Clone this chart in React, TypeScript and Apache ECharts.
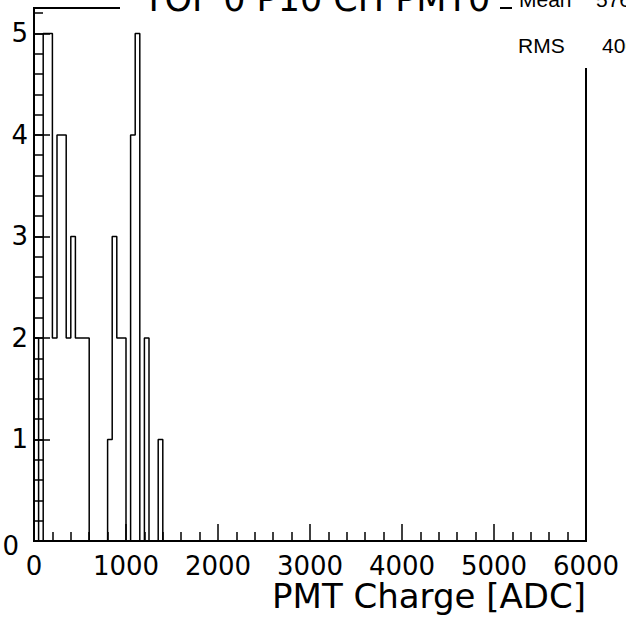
import React, { useEffect, useRef } from "react";
import * as echarts from "echarts";

// Histogram: bins of 50 ADC starting at 0 (bins beyond the list are empty)
const binWidth = 50;
const counts = [2, 0, 5, 5, 2, 4, 4, 2, 3, 2, 2, 2, 0, 0, 0, 0, 1, 3, 2, 2, 0, 4, 5, 0, 2, 0, 0, 1];
const xMin = 0;
const xMax = 6000;
const xInterval = 1000;
const yMin = 0;
const yMax = 5.25;
const yInterval = 1;
const yMinorInterval = 0.2;
const titleText = "TOF 0 P10 CH PMT0";
const xTitle = "PMT Charge [ADC]";
const statNames = ["Mean", "RMS"];
const statValues = ["576.9", "400.4"];

const FONT = "DejaVu Sans";
const SFONT = "Liberation Sans";

export default function App() {
  const ref = useRef<HTMLDivElement>(null);
  useEffect(() => {
    if (!ref.current) return;
    const chart = echarts.init(ref.current, null, { renderer: "svg" });
    const data: [number, number][] = [[xMin, 0]];
    counts.forEach((c, i) => data.push([xMin + i * binWidth, c]));
    data.push([xMin + counts.length * binWidth, 0]);
    data.push([xMax, 0]);

    const tickStyle = { color: "#000", width: 1.5 };
    chart.setOption({
      animation: false,
      backgroundColor: "#fff",
      grid: {
        left: 34,
        right: 40,
        top: 8,
        bottom: 79,
        containLabel: false,
        outerBoundsMode: "none",
        show: true,
        borderColor: "#000",
        borderWidth: 2,
        backgroundColor: "transparent",
      },
      xAxis: {
        type: "value",
        min: xMin,
        max: xMax,
        interval: xInterval,
        splitLine: { show: false },
        axisLine: { show: true, lineStyle: { color: "#000", width: 2 } },
        axisTick: { show: true, inside: true, length: 17, lineStyle: tickStyle },
        minorTick: { show: true, splitNumber: 5, length: 9, lineStyle: tickStyle },
        axisLabel: {
          color: "#000",
          fontSize: 26,
          lineHeight: 20,
          fontFamily: FONT,
          margin: 15,
          formatter: (v: number) => String(v),
        },
      },
      yAxis: [
        {
          type: "value",
          min: yMin,
          max: yMax,
          interval: yInterval,
          splitLine: { show: false },
          axisLine: { show: true, lineStyle: { color: "#000", width: 2 } },
          axisTick: { show: true, inside: true, length: 16, lineStyle: tickStyle },
          minorTick: { show: false },
          axisLabel: {
            color: "#000",
            fontSize: 26,
            fontFamily: FONT,
            margin: 6,
            formatter: (v: number) =>
              v === 0 ? "{z|0}" : Number.isInteger(v) ? String(v) : "",
            rich: {
              z: {
                color: "#000",
                fontSize: 26,
                fontFamily: FONT,
                padding: [10, 9, 0, 0],
              },
            },
          },
        },
        {
          type: "value",
          position: "left",
          min: yMin,
          max: yMax,
          interval: yMinorInterval,
          splitLine: { show: false },
          axisLine: { show: false },
          axisTick: { show: true, inside: true, length: 9, lineStyle: tickStyle },
          axisLabel: { show: false },
        },
      ],
      series: [
        {
          type: "line",
          step: "end",
          data,
          symbol: "none",
          lineStyle: { color: "#000", width: 1.5 },
          clip: true,
          z: 3,
        },
      ],
      graphic: [
        {
          type: "text",
          z: 101,
          x: 586,
          y: 596,
          style: {
            text: xTitle,
            fontSize: 34,
            lineHeight: 28,
            fontFamily: FONT,
            fill: "#000",
            verticalAlign: "middle",
            align: "right",
          },
        },
        { type: "rect", z: 100, shape: { x: 120, y: 0, width: 380, height: 12 }, style: { fill: "#fff" } },
        {
          type: "text",
          z: 101,
          x: 143,
          y: -1,
          style: { text: titleText, fontSize: 35, fontFamily: FONT, fill: "#000", verticalAlign: "middle", align: "left" },
        },
        { type: "rect", z: 100, shape: { x: 512, y: 0, width: 114, height: 68 }, style: { fill: "#fff" } },
        {
          type: "text",
          z: 101,
          x: 519,
          y: -1,
          style: { text: statNames[0], fontSize: 21, fontFamily: SFONT, fill: "#000", verticalAlign: "middle" },
        },
        {
          type: "text",
          z: 101,
          x: 596,
          y: -1,
          style: { text: statValues[0], fontSize: 21, fontFamily: SFONT, fill: "#000", verticalAlign: "middle" },
        },
        {
          type: "text",
          z: 101,
          x: 518,
          y: 45,
          style: { text: statNames[1], fontSize: 21, fontFamily: SFONT, fill: "#000", verticalAlign: "middle" },
        },
        {
          type: "text",
          z: 101,
          x: 602,
          y: 45,
          style: { text: statValues[1], fontSize: 21, fontFamily: SFONT, fill: "#000", verticalAlign: "middle" },
        },
      ],
    });
    return () => chart.dispose();
  }, []);
  return (
    <div
      ref={ref}
      style={{ position: "fixed", left: 0, top: 0, width: 626, height: 620, background: "#fff" }}
    />
  );
}
